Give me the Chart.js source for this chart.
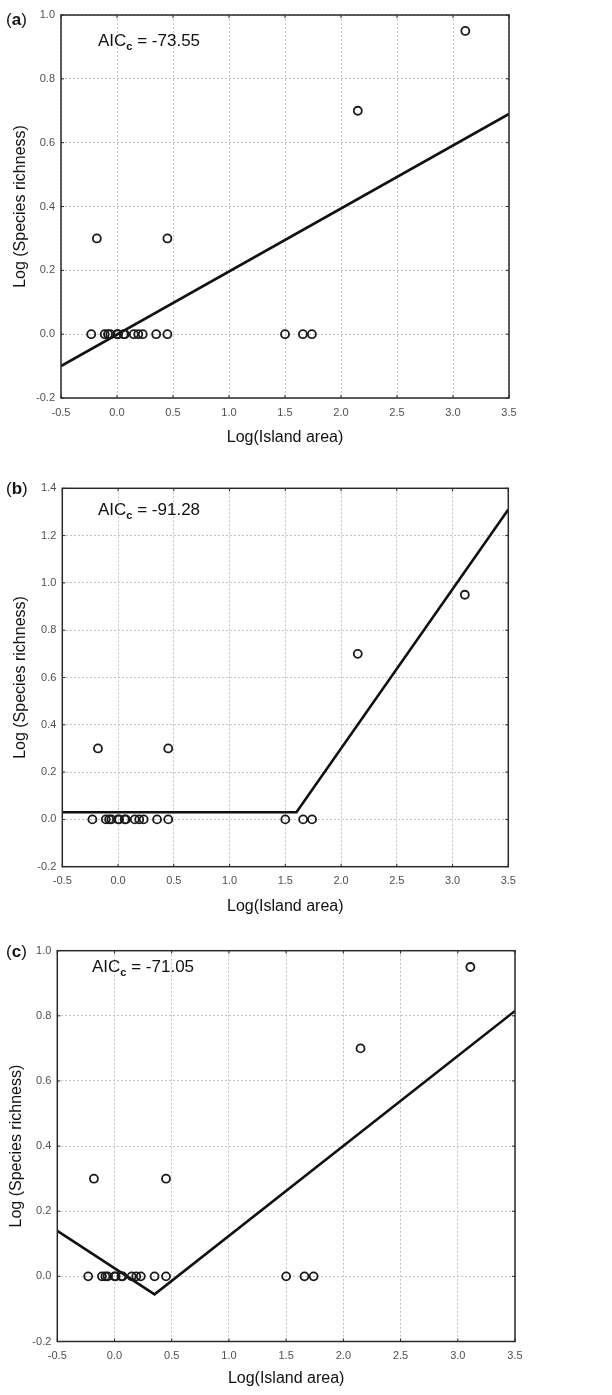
<!DOCTYPE html>
<html>
<head>
<meta charset="utf-8">
<script src="https://cdn.jsdelivr.net/npm/chart.js@4.4.1/dist/chart.umd.min.js"></script>
<style>
  body { margin: 0; background: #fff; }
  #page { position: relative; width: 612px; height: 1395px; font-family: "Liberation Sans", Arial, sans-serif; }
  canvas { position: absolute; left: 0; }
  .tag { position: absolute; font-size: 17px; color: #111; }
  .tag b { font-weight: bold; }
  .aic { position: absolute; font-size: 17px; color: #111; white-space: nowrap; }
  .aic sub { font-size: 11px; font-weight: bold; vertical-align: -4px; }
</style>
</head>
<body>
<div id="page">
  <canvas id="panelA" width="612" height="460" style="top:0"></canvas>
  <canvas id="panelB" width="612" height="460" style="top:470px"></canvas>
  <canvas id="panelC" width="612" height="460" style="top:935px"></canvas>

  <div class="tag" style="left:6px; top:10px">(<b>a</b>)</div>
  <div class="aic" style="left:98px; top:31px">AIC<sub>c</sub> = -73.55</div>

  <div class="tag" style="left:6px; top:479px">(<b>b</b>)</div>
  <div class="aic" style="left:98px; top:500px">AIC<sub>c</sub> = -91.28</div>

  <div class="tag" style="left:6px; top:942px">(<b>c</b>)</div>
  <div class="aic" style="left:92px; top:957px">AIC<sub>c</sub> = -71.05</div>
</div>
<script>
// observed islands: log10(area) vs log10(species count)
const islandArea      = [-0.23, -0.11, -0.08, -0.06, 0.00, 0.01, 0.06, 0.07, 0.15, 0.19, 0.23, 0.35, 0.45, 1.50, 1.66, 1.74, -0.18, 0.45, 2.15, 3.11];
const speciesRichness = [0, 0, 0, 0, 0, 0, 0, 0, 0, 0, 0, 0, 0, 0, 0, 0, 0.30, 0.30, 0.70, 0.95];

// fitted models
const linearFitX = [-0.5, 3.5];
const linearFitY = [-0.10, 0.69];
const brokenFitX = [-0.5, 1.60, 3.5];
const brokenFitY = [0.03, 0.03, 1.31];
const vFitX = [-0.5, 0.35, 3.5];
const vFitY = [0.14, -0.055, 0.815];

const xTitle = 'Log(Island area)';
const yTitle = 'Log (Species richness)';
const FONT = '"Liberation Sans", Arial, sans-serif';

const toPoints = (xs, ys) => xs.map((x, i) => ({ x: x, y: ys[i] }));
const fmt = v => (Math.abs(v) < 1e-9 ? 0 : v).toFixed(1);

// full box round the plot area, with small inward ticks
const frame = {
  id: 'frame',
  afterDatasetsDraw(chart) {
    const a = chart.chartArea;
    const ctx = chart.ctx;
    ctx.save();
    ctx.strokeStyle = '#2a2a2a';
    ctx.lineWidth = 1.5;
    ctx.strokeRect(a.left, a.top, a.right - a.left, a.bottom - a.top);
    ctx.lineWidth = 1;
    ctx.beginPath();
    chart.scales.x.ticks.forEach((t, i) => {
      const px = chart.scales.x.getPixelForTick(i);
      ctx.moveTo(px, a.bottom); ctx.lineTo(px, a.bottom - 3);
      ctx.moveTo(px, a.top); ctx.lineTo(px, a.top + 3);
    });
    chart.scales.y.ticks.forEach((t, i) => {
      const py = chart.scales.y.getPixelForTick(i);
      ctx.moveTo(a.left, py); ctx.lineTo(a.left + 3, py);
      ctx.moveTo(a.right, py); ctx.lineTo(a.right - 3, py);
    });
    ctx.stroke();
    ctx.restore();
  }
};

function makePanel(id, fitX, fitY, g) {
  const ctx = document.getElementById(id).getContext('2d');
  return new Chart(ctx, {
    type: 'scatter',
    data: {
      datasets: [{
        data: toPoints(fitX, fitY),
        showLine: true,
        borderColor: '#111',
        borderWidth: 2.6,
        pointRadius: 0,
        order: 2
      }, {
        data: toPoints(islandArea, speciesRichness),
        showLine: false,
        pointStyle: 'circle',
        pointRadius: 4,
        pointBorderWidth: 1.8,
        pointBorderColor: '#1a1a1a',
        pointBackgroundColor: 'rgba(0,0,0,0)',
        order: 1
      }]
    },
    options: {
      responsive: false,
      animation: false,
      devicePixelRatio: 1,
      layout: { padding: { left: 0, top: g.top, right: g.right, bottom: 0 } },
      plugins: { legend: { display: false }, tooltip: { enabled: false } },
      scales: {
        x: {
          type: 'linear', min: -0.5, max: 3.5,
          afterFit: s => { s.height = g.xh; },
          grid: { color: '#c4c4c4', lineWidth: 1, drawTicks: false },
          border: { display: false, dash: [2, 2] },
          ticks: { stepSize: 0.5, padding: 8, color: '#505050', font: { family: FONT, size: 11 },
                   maxRotation: 0, callback: fmt },
          title: { display: true, text: xTitle, color: '#111', font: { family: FONT, size: 16 },
                   padding: { top: 0, bottom: g.xtp } }
        },
        y: {
          type: 'linear', min: -0.2, max: g.ymax,
          afterFit: s => { s.width = g.left; },
          grid: { color: '#c4c4c4', lineWidth: 1, drawTicks: false },
          border: { display: false, dash: [2, 2] },
          ticks: { stepSize: 0.2, padding: 6, color: '#505050', font: { family: FONT, size: 11 },
                   callback: fmt },
          title: { display: true, text: yTitle, color: '#111', font: { family: FONT, size: 16 },
                   padding: { top: g.ytp, bottom: 0 } }
        }
      }
    },
    plugins: [frame]
  });
}

makePanel('panelA', linearFitX, linearFitY, { top: 15, right: 103, left: 61, xh: 62, xtp: 12.4, ymax: 1.0, ytp: 11.4 });
makePanel('panelB', brokenFitX, brokenFitY, { top: 18.3, right: 103.7, left: 62.3, xh: 63.3, xtp: 13.7, ymax: 1.4, ytp: 11.4 });
makePanel('panelC', vFitX, vFitY, { top: 15.7, right: 97, left: 57.3, xh: 53.5, xtp: 7.1, ymax: 1.0, ytp: 6.5 });
</script>
</body>
</html>
